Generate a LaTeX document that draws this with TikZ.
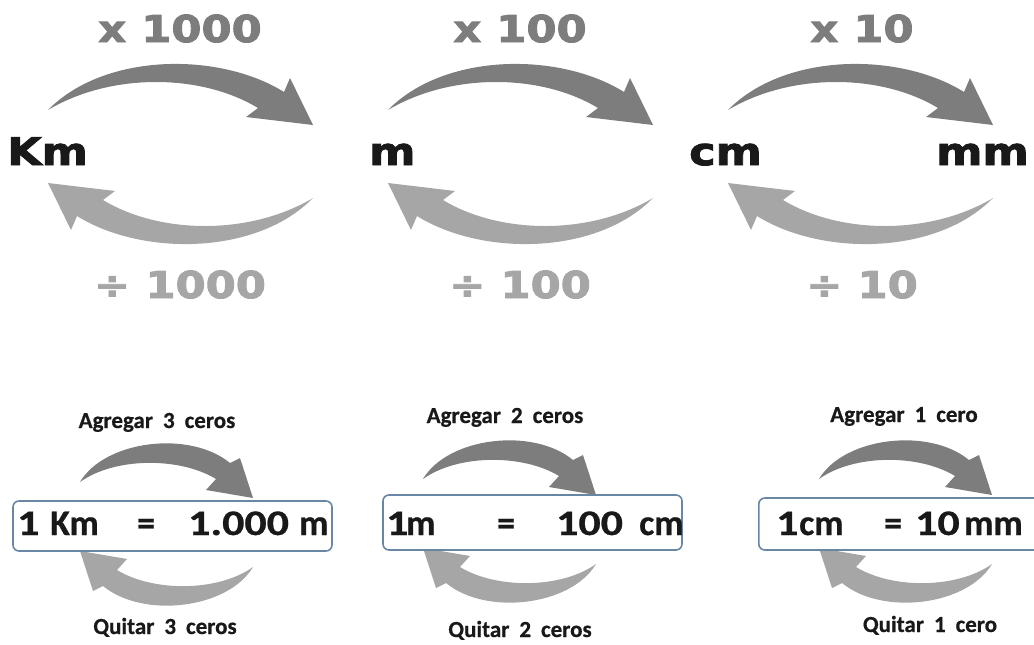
\documentclass[tikz,border=0pt]{standalone}
\usepackage{fontspec}
\newfontfamily\heavyfont{DejaVu Sans}[FakeStretch=1.17,FakeBold=2.5]
\newfontfamily\calfont{Carlito}[FakeBold=0.6]
\newfontfamily\calwidefont{Carlito}[FakeStretch=1.22,FakeBold=0.6]
\definecolor{dgray}{RGB}{125,125,125}
\definecolor{lgray}{RGB}{166,166,166}
\definecolor{boxblue}{RGB}{105,135,165}
\definecolor{ink}{RGB}{25,25,25}
\tikzset{
  bigarc/.pic={\fill[pic actions] (48,110) .. controls (105,52) and (220,52) .. (284,92) -- (290,78) -- (313,125) -- (246,117) -- (258,108) .. controls (200,73) and (110,73) .. (48,110) -- cycle;},
  smallarc/.pic={\fill[pic actions] (80,482) .. controls (105,440) and (190,430) .. (230,463) -- (240,458) -- (253,498) -- (206,490) -- (216,479) .. controls (180,457) and (115,457) .. (80,482) -- cycle;},
  mult/.style={inner sep=0pt, anchor=base, text=dgray, font=\heavyfont\bfseries\fontsize{37}{40}\selectfont},
  divl/.style={inner sep=0pt, anchor=base, text=lgray, font=\heavyfont\bfseries\fontsize{37}{40}\selectfont},
  unit/.style={inner sep=0pt, anchor=base west, text=ink, font=\heavyfont\bfseries\fontsize{38}{40}\selectfont},
  note/.style={inner sep=0pt, anchor=base, text=ink, font=\calfont\bfseries\fontsize{23}{25}\selectfont},
  eqbox/.style={draw=boxblue, line width=1.6pt, rounded corners=6pt, fill=white, inner sep=0pt},
  eqtxt/.style={inner sep=0pt, anchor=base west, text=ink, font=\calfont\bfseries\fontsize{36}{40}\selectfont},
  eqnum/.style={inner sep=0pt, anchor=base west, text=ink, font=\calwidefont\bfseries\fontsize{36}{40}\selectfont},
}
\begin{document}
\begin{tikzpicture}[x=1pt,y=-1pt]
\useasboundingbox (0,0) rectangle (1034,645);
\clip (0,0) rectangle (1034,645);
% ---------- top row ----------
\pic[fill=dgray] at (0,0) {bigarc};
\pic[fill=lgray, rotate=180] at (361,308) {bigarc};
\pic[fill=dgray] at (340,0) {bigarc};
\pic[fill=lgray, rotate=180] at (701,308) {bigarc};
\pic[fill=dgray] at (680,0) {bigarc};
\pic[fill=lgray, rotate=180] at (1041,308) {bigarc};
\node[mult] (m1) at (180,42) {x 1000};
\node[mult] (m2) at (520,42) {x 100};
\node[mult] (m3) at (862,42) {x 10};
\node[divl] (d1) at (180,298) {÷ 1000};
\node[divl] (d2) at (520,298) {÷ 100};
\node[divl] (d3) at (862,298) {÷ 10};
\node[unit] (km) at (7,165) {Km};
\node[unit] (mm1) at (369,165) {m};
\node[unit] (cm) at (689,165) {cm};
\node[unit] (mmm) at (936,165) {mm};
% ---------- bottom row ----------
\pic[fill=dgray] at (0,0) {smallarc};
\pic[fill=lgray, rotate=180] at (333,1049) {smallarc};
\pic[fill=dgray] at (343,-3) {smallarc};
\pic[fill=lgray, rotate=180] at (676,1046) {smallarc};
\pic[fill=dgray] at (739,-3) {smallarc};
\pic[fill=lgray, rotate=180] at (1072,1046) {smallarc};
\node[eqbox, minimum width=319pt, minimum height=50pt] (b1) at (172.5,526) {};
\node[eqbox, minimum width=299pt, minimum height=55pt] (b2) at (532.5,522.5) {};
\node[eqbox, minimum width=300pt, minimum height=52pt, anchor=west] (b3) at (758,524) {};
% box 1
\node[eqnum] (b1a) at (17,535) {1};
\node[eqtxt] (b1b) at (50,535) {Km};
\node[eqtxt] (b1c) at (137,535) {=};
\node[eqnum] (b1d) at (188,535) {1.000};
\node[eqtxt] (b1e) at (299,535) {m};
% box 2
\node[eqnum] (b2a) at (386,535) {1};
\node[eqtxt] (b2b) at (406,535) {m};
\node[eqtxt] (b2c) at (497,535) {=};
\node[eqnum] (b2d) at (556,535) {100};
\node[eqtxt] (b2e) at (639,535) {cm};
% box 3
\node[eqnum] (b3a) at (776,535) {1};
\node[eqtxt] (b3b) at (799,535) {cm};
\node[eqtxt] (b3c) at (884,535) {=};
\node[eqnum] (b3d) at (915,535) {10};
\node[eqtxt] (b3e) at (964,535) {mm};
% notes
\node[note] (a1) at (157,428) {Agregar\hspace{10pt}3\hspace{10pt}ceros};
\node[note] (a2) at (505,423) {Agregar\hspace{10pt}2\hspace{10pt}ceros};
\node[note] (a3) at (904,422) {Agregar\hspace{10pt}1\hspace{10pt}cero};
\node[note] (q1) at (165,634) {Quitar\hspace{10pt}3\hspace{10pt}ceros};
\node[note] (q2) at (520,637) {Quitar\hspace{10pt}2\hspace{10pt}ceros};
\node[note] (q3) at (930,632) {Quitar\hspace{10pt}1\hspace{10pt}cero};
\end{tikzpicture}
\end{document}
